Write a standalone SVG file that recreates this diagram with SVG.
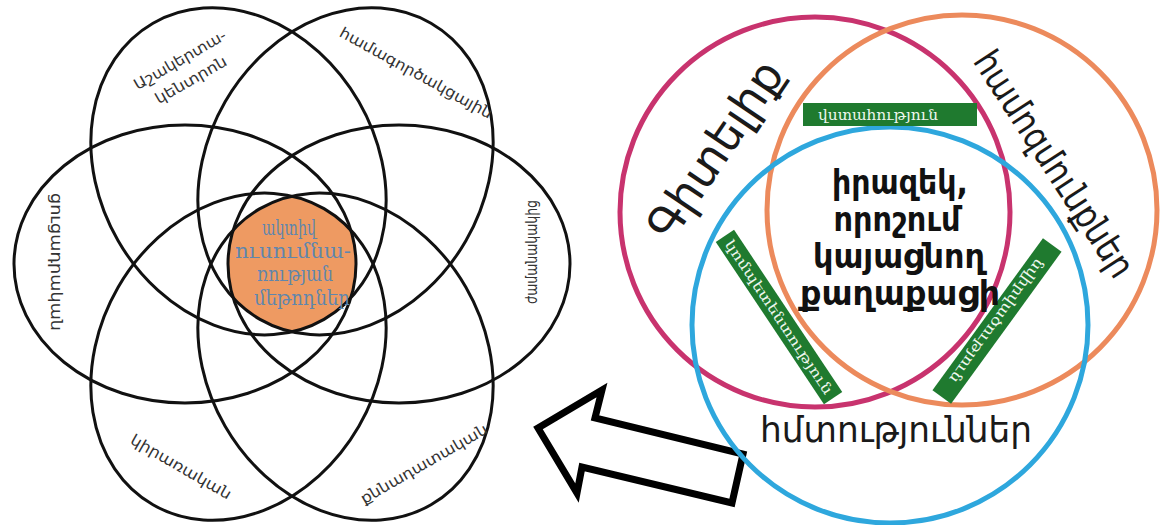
<svg xmlns="http://www.w3.org/2000/svg" width="1164" height="525" viewBox="0 0 1164 525">
<style>
.pet{fill:none;stroke:#111;stroke-width:3}
.plab{font-family:"DejaVu Sans",sans-serif;font-size:15px;fill:#333;text-anchor:middle;dominant-baseline:central}
.ctr{font-family:"DejaVu Serif","DejaVu Sans",serif;font-size:21px;fill:#5f86ad;text-anchor:middle}
.ring{fill:none;stroke-width:5}
.big{font-family:"DejaVu Sans",sans-serif;fill:#1a1a1a;text-anchor:middle;dominant-baseline:central}
.bar{fill:#1f7a2f}
.bt{font-family:"DejaVu Serif","DejaVu Sans",serif;font-size:14px;fill:#eef7ee;text-anchor:middle;dominant-baseline:central}
.mid{font-family:"DejaVu Sans",sans-serif;font-weight:bold;font-size:33px;fill:#111;text-anchor:middle}
.arrow{fill:#fff;stroke:#000;stroke-width:7;stroke-linejoin:miter}
</style>
<defs>
<clipPath id="c1"><ellipse cx="185" cy="264" rx="171" ry="139"/></clipPath>
<clipPath id="c2"><ellipse cx="399" cy="264" rx="171" ry="139"/></clipPath>
<clipPath id="c3"><ellipse cx="0" cy="0" rx="171" ry="139" transform="translate(238.5 171.3) rotate(60)"/></clipPath>
<clipPath id="c4"><ellipse cx="0" cy="0" rx="171" ry="139" transform="translate(345.5 171.3) rotate(-60)"/></clipPath>
<clipPath id="c5"><ellipse cx="0" cy="0" rx="171" ry="139" transform="translate(238.5 356.7) rotate(-60)"/></clipPath>
<clipPath id="c6"><ellipse cx="0" cy="0" rx="171" ry="139" transform="translate(345.5 356.7) rotate(60)"/></clipPath>
</defs>
<rect width="1164" height="525" fill="#fff"/>

<g id="flower-center">
<g clip-path="url(#c1)"><g clip-path="url(#c2)"><g clip-path="url(#c3)"><g clip-path="url(#c4)"><g clip-path="url(#c5)"><g clip-path="url(#c6)">
<rect x="180" y="160" width="230" height="210" fill="#ee9a62"/>
</g></g></g></g></g></g>
</g>

<g id="petal-student-centered">
<ellipse class="pet" cx="0" cy="0" rx="171" ry="139" transform="translate(238.5 171.3) rotate(60)"/>
</g>
<g id="petal-collaborative">
<ellipse class="pet" cx="0" cy="0" rx="171" ry="139" transform="translate(345.5 171.3) rotate(-60)"/>
</g>
<g id="petal-demonstrative">
<ellipse class="pet" cx="185" cy="264" rx="171" ry="139"/>
</g>
<g id="petal-modern">
<ellipse class="pet" cx="399" cy="264" rx="171" ry="139"/>
</g>
<g id="petal-applied">
<ellipse class="pet" cx="0" cy="0" rx="171" ry="139" transform="translate(238.5 356.7) rotate(-60)"/>
</g>
<g id="petal-critical">
<ellipse class="pet" cx="0" cy="0" rx="171" ry="139" transform="translate(345.5 356.7) rotate(60)"/>
</g>

<g id="petal-labels">
<text class="plab" transform="translate(180 60) rotate(-30)" textLength="104" lengthAdjust="spacingAndGlyphs">Աշակերտա-</text>
<text class="plab" transform="translate(191 80) rotate(-30)" textLength="80" lengthAdjust="spacingAndGlyphs">կենտրոն</text>
<text class="plab" transform="translate(416 73) rotate(29)" textLength="172" lengthAdjust="spacingAndGlyphs">համագործակցային</text>
<text class="plab" transform="translate(56 262) rotate(90)" textLength="138" lengthAdjust="spacingAndGlyphs">ցուցադրական</text>
<text class="plab" transform="translate(532 252) rotate(-90)" textLength="104" lengthAdjust="spacingAndGlyphs">ժամանակակից</text>
<text class="plab" transform="translate(181 467) rotate(30)" textLength="114" lengthAdjust="spacingAndGlyphs">կիրառական</text>
<text class="plab" transform="translate(424 464) rotate(-30)" textLength="144" lengthAdjust="spacingAndGlyphs">քննադատական</text>
</g>

<g id="center-label">
<text class="ctr" x="289" y="235" textLength="54" lengthAdjust="spacingAndGlyphs">ակտիվ</text>
<text class="ctr" x="293" y="258" textLength="116" lengthAdjust="spacingAndGlyphs">ուսումնա-</text>
<text class="ctr" x="295" y="281" textLength="76" lengthAdjust="spacingAndGlyphs">ռության</text>
<text class="ctr" x="302" y="305" textLength="96" lengthAdjust="spacingAndGlyphs">մեթոդներ</text>
</g>

<g id="connectors">
<polygon class="arrow" points="538,428 602,390 595,418 743,454 732,503 582,467 577,493"/>
</g>

<g id="knowledge">
<circle class="ring" cx="815" cy="212" r="195" stroke="#c8336e"/>
<text class="big" font-size="46" transform="translate(715 150) rotate(-56)" textLength="205" lengthAdjust="spacingAndGlyphs">Գիտելիք</text>
</g>
<g id="beliefs">
<circle class="ring" cx="962" cy="210" r="195" stroke="#ec8a5c"/>
<text class="big" font-size="37" transform="translate(1054 164) rotate(57)" textLength="262" lengthAdjust="spacingAndGlyphs">համոզմունքներ</text>
</g>
<g id="skills">
<circle class="ring" cx="890" cy="325" r="198" stroke="#2ea7dd"/>
<text font-family="DejaVu Sans, sans-serif" font-size="36" fill="#1a1a1a" text-anchor="middle" x="896" y="442" textLength="272" lengthAdjust="spacingAndGlyphs">հմտություններ</text>
</g>

<g id="confidence">
<rect class="bar" x="803" y="103" width="174" height="23"/>
<text class="bt" x="878" y="114.5" textLength="120" lengthAdjust="spacingAndGlyphs">վստահություն</text>
</g>
<g id="competence">
<rect class="bar" x="-97.5" y="-11" width="195" height="22" transform="translate(779 317) rotate(56.3)"/>
<text class="bt" transform="translate(779 317) rotate(56.3)" textLength="182" lengthAdjust="spacingAndGlyphs">կոմպետենտություն</text>
</g>
<g id="commitment">
<rect class="bar" x="-94" y="-11.5" width="188" height="23" transform="translate(997 321) rotate(126)"/>
<text class="bt" transform="translate(997 321) rotate(126)" textLength="150" lengthAdjust="spacingAndGlyphs">նվիրվածություն</text>
</g>

<g id="citizen">
<text class="mid" x="900" y="194" textLength="136" lengthAdjust="spacingAndGlyphs">իրազեկ,</text>
<text class="mid" x="897" y="231" textLength="127" lengthAdjust="spacingAndGlyphs">որոշում</text>
<text class="mid" x="899" y="268" textLength="172" lengthAdjust="spacingAndGlyphs">կայացնող</text>
<text class="mid" x="900" y="305" textLength="200" lengthAdjust="spacingAndGlyphs">քաղաքացի</text>
</g>
</svg>
